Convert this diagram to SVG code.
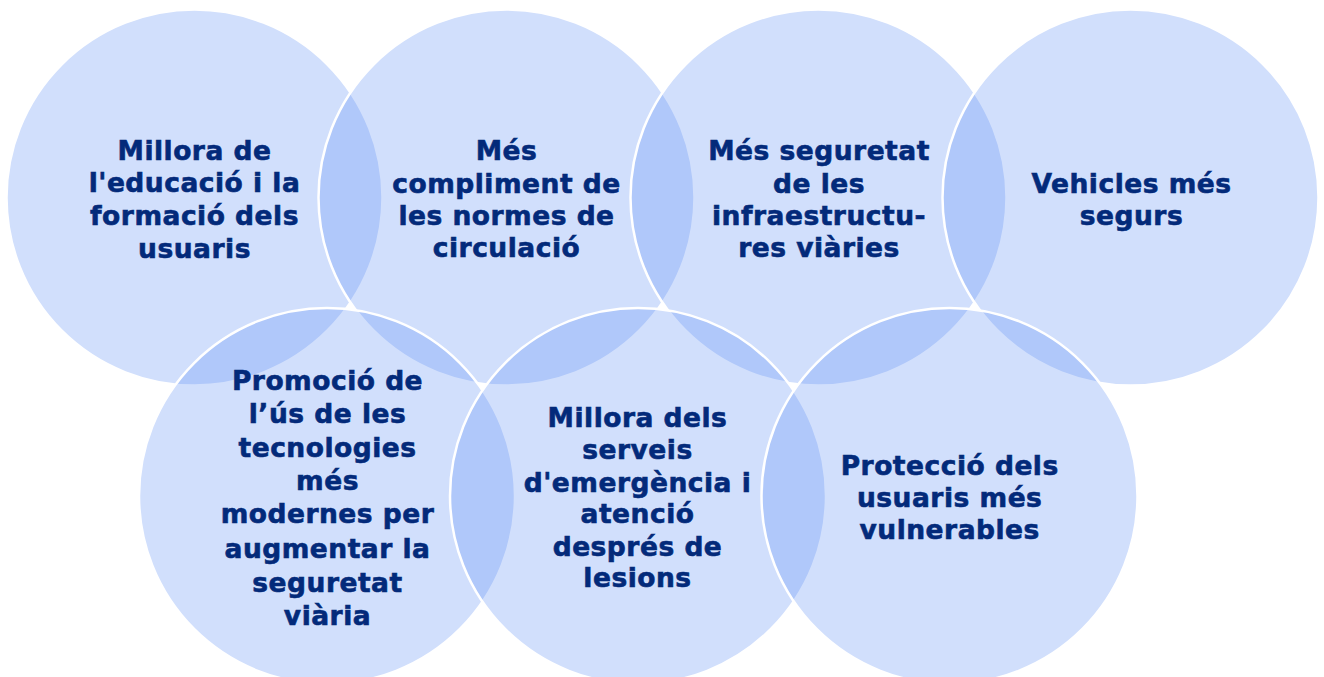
<svg xmlns="http://www.w3.org/2000/svg" width="1324" height="677" viewBox="0 0 1324 677">
<style>
.c{fill:rgb(92,142,244);fill-opacity:0.283;stroke:#ffffff;stroke-width:2.5}
.t{font-family:"DejaVu Sans","Verdana",sans-serif;font-weight:bold;font-size:26.5px;letter-spacing:0.5px;fill:#032a7a;stroke:#032a7a;stroke-width:0.6;text-anchor:middle}
</style>
<rect width="1324" height="677" fill="#ffffff"/>
<g id="n1"><circle class="c" cx="194.5" cy="197.5" r="188"/>
<text class="t"><tspan x="194.5" y="159.5">Millora de</tspan><tspan x="194.5" y="192">l'educació i la</tspan><tspan x="194.5" y="225">formació dels</tspan><tspan x="194.5" y="258">usuaris</tspan></text></g>
<g id="n2"><circle class="c" cx="506.5" cy="197.5" r="188"/>
<text class="t"><tspan x="506.5" y="160">Més</tspan><tspan x="506.5" y="192.5">compliment de</tspan><tspan x="506.5" y="225">les normes de</tspan><tspan x="506.5" y="257">circulació</tspan></text></g>
<g id="n3"><circle class="c" cx="818.5" cy="197.5" r="188"/>
<text class="t"><tspan x="819" y="160">Més seguretat</tspan><tspan x="819" y="192.5">de les</tspan><tspan x="819" y="225">infraestructu-</tspan><tspan x="819" y="257">res viàries</tspan></text></g>
<g id="n4"><circle class="c" cx="1130.5" cy="197.5" r="188"/>
<text class="t"><tspan x="1131.5" y="192.5">Vehicles més</tspan><tspan x="1131.5" y="225">segurs</tspan></text></g>
<g id="n5"><circle class="c" cx="327" cy="496" r="188"/>
<text class="t"><tspan x="327.5" y="390">Promoció de</tspan><tspan x="327.5" y="423.3">l’ús de les</tspan><tspan x="327.5" y="456.7">tecnologies</tspan><tspan x="327.5" y="490">més</tspan><tspan x="327.5" y="523.3">modernes per</tspan><tspan x="327.5" y="558">augmentar la</tspan><tspan x="327.5" y="591.5">seguretat</tspan><tspan x="327.5" y="625">viària</tspan></text></g>
<g id="n6"><circle class="c" cx="638" cy="496" r="188"/>
<text class="t"><tspan x="637.5" y="427.3">Millora dels</tspan><tspan x="637.5" y="459.3">serveis</tspan><tspan x="637.5" y="491.7">d'emergència i</tspan><tspan x="637.5" y="523.3">atenció</tspan><tspan x="637.5" y="555.7">després de</tspan><tspan x="637.5" y="587.3">lesions</tspan></text></g>
<g id="n7"><circle class="c" cx="949.5" cy="496" r="188"/>
<text class="t"><tspan x="949.7" y="475">Protecció dels</tspan><tspan x="949.7" y="507.3">usuaris més</tspan><tspan x="949.7" y="539.3">vulnerables</tspan></text></g>
<g id="connectors"></g>
</svg>
